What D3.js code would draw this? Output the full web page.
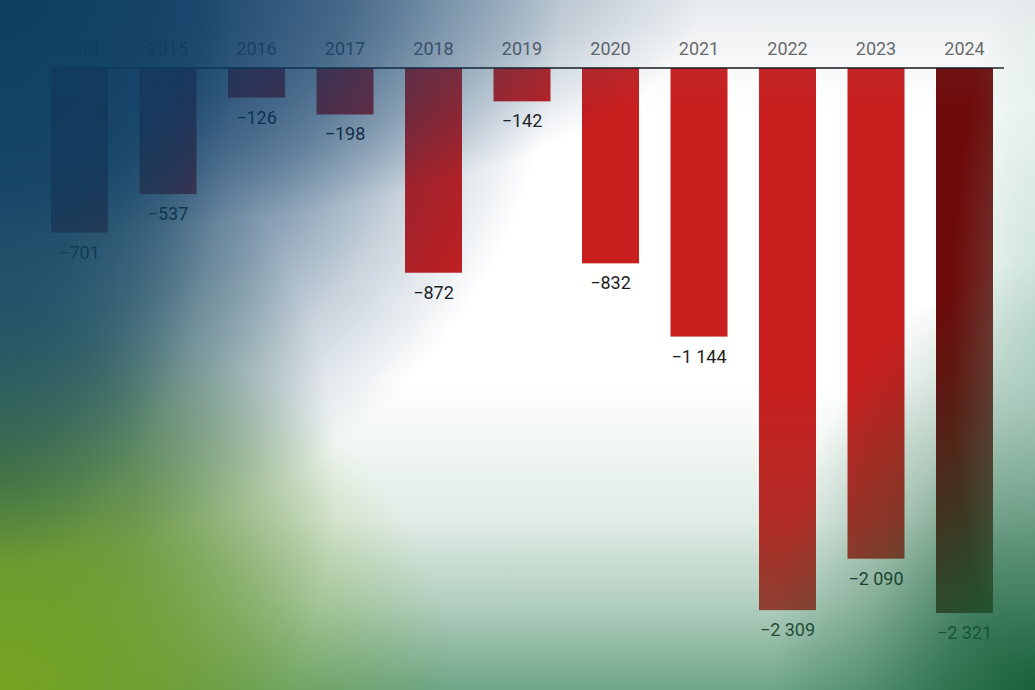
<!DOCTYPE html>
<html>
<head>
<meta charset="utf-8">
<script src="https://cdn.jsdelivr.net/npm/d3@7"></script>
<style>
  html, body { margin: 0; padding: 0; background: #ffffff; }
  svg { display: block; }
  .year { font-family: Roboto, sans-serif; font-size: 18px; fill: #666666; }
  .value { font-family: Roboto, sans-serif; font-size: 18px; fill: #1e1e1e; }
</style>
</head>
<body>
<script>
(function() {

    //chart data
    var years = ["2014", "2015", "2016", "2017", "2018", "2019", "2020", "2021", "2022", "2023", "2024"];
    var values = [-701, -537, -126, -198, -872, -142, -832, -1144, -2309, -2090, -2321];
    var highlight = ["2024"];

    window.onload = setChart();

    function setChart() {
        var width = 1035,
            height = 690;

        var svg = d3.select("body")
            .append("svg")
            .attr("width", width)
            .attr("height", height);

        //number format with space thousands and real minus sign
        var locale = d3.formatLocale({
            decimal: ",",
            thousands: " ",
            grouping: [3],
            currency: ["", ""],
            minus: "\u2212"
        });
        var fmt = locale.format(",d");

        var data = years.map(function(y, i) { return { year: y, value: values[i] }; });

        //x scale: bands for the years
        var x = d3.scaleBand()
            .domain(years)
            .range([51, 993])
            .paddingInner(0.356)
            .paddingOuter(0);

        //y scale: zero at top, negative values go down
        var y = d3.scaleLinear()
            .domain([0, -2400])
            .range([68, 631.5]);

        var chart = svg.append("g").attr("class", "chart");

        //bars
        chart.selectAll(".bar")
            .data(data)
            .enter()
            .append("rect")
            .attr("class", "bar")
            .attr("x", d => x(d.year))
            .attr("y", y(0))
            .attr("width", x.bandwidth())
            .attr("height", d => y(d.value) - y(0))
            .style("fill", d => highlight.indexOf(d.year) >= 0 ? "#6e0a0a" : "#c81e1e");

        //value labels under bars
        chart.selectAll(".value")
            .data(data)
            .enter()
            .append("text")
            .attr("class", "value")
            .attr("text-anchor", "middle")
            .attr("x", d => x(d.year) + x.bandwidth() / 2)
            .attr("y", d => y(d.value) + 26)
            .text(d => fmt(d.value));

        //year labels on top
        var xAxis = d3.axisTop(x).tickSize(0).tickPadding(0);
        var axis = chart.append("g")
            .attr("transform", "translate(0," + 55 + ")")
            .call(xAxis);
        axis.select(".domain").remove();
        axis.selectAll("text")
            .attr("class", "year")
            .attr("font-family", null)
            .attr("font-size", null)
            .attr("fill", null)
            .attr("dy", 0);

        //zero line
        chart.append("line")
            .attr("x1", 50)
            .attr("x2", 1004)
            .attr("y1", y(0))
            .attr("y2", y(0))
            .style("stroke", "#111111")
            .style("stroke-width", 1.5);

        //colour wash laid over the whole picture
        var defs = svg.append("defs");

        function linearWash(id, x1, y1, x2, y2, color, stops) {
            var g = defs.append("linearGradient")
                .attr("id", id)
                .attr("gradientUnits", "userSpaceOnUse")
                .attr("x1", x1).attr("y1", y1).attr("x2", x2).attr("y2", y2);
            stops.forEach(function(s) {
                g.append("stop")
                    .attr("offset", s[0])
                    .attr("stop-color", color)
                    .attr("stop-opacity", s[1]);
            });
            svg.append("rect")
                .attr("width", width)
                .attr("height", height)
                .style("fill", "url(#" + id + ")");
        }

        //green rising from the bottom edge
        linearWash("wBottom", 0, 380, 0, 690, "#2a7a50",
            [[0, 0], [0.45, 0.14], [0.71, 0.35], [1, 0.68]]);
        //faint grey haze along the top edge
        linearWash("wTop", 0, 0, 0, 110, "#8a9caa",
            [[0, 0.2], [0.5, 0.08], [1, 0]]);

        var washes = [
            { id: "wForest", cx: 0, cy: 480, r: 420, sx: 0.8, sy: 1.0, color: "#2b6540",
              stops: [[0, 0.88], [0.4, 0.66], [0.7, 0.32], [1, 0]] },
            { id: "wLime", cx: 0, cy: 690, r: 380, sx: 1.2, sy: 1.0, color: "#78a61c",
              stops: [[0, 0.95], [0.35, 0.7], [0.7, 0.28], [1, 0]] },
            { id: "wGreen", cx: 1035, cy: 690, r: 330, sx: 0.8, sy: 1.3, color: "#0f5a32",
              stops: [[0, 0.9], [0.33, 0.65], [0.65, 0.28], [1, 0]] },
            { id: "wMint", cx: 1035, cy: 330, r: 280, sx: 0.3, sy: 1.3, color: "#7ab4a0",
              stops: [[0, 0.4], [0.5, 0.22], [1, 0]] },
            { id: "wBlue", cx: 0, cy: 0, r: 560, sx: 1.0, sy: 1.0, color: "#093863",
              stops: [[0, 0.92], [0.35, 0.82], [0.6, 0.52], [0.8, 0.22], [1, 0]] },
            { id: "wBlueTop", cx: 0, cy: 0, r: 520, sx: 1.35, sy: 0.45, color: "#093863",
              stops: [[0, 0.55], [0.5, 0.45], [0.75, 0.25], [1, 0]] },
            { id: "wBlueLeft", cx: 0, cy: 0, r: 520, sx: 0.45, sy: 1.1, color: "#0b3f5e",
              stops: [[0, 0.55], [0.5, 0.45], [0.75, 0.25], [1, 0]] }
        ];

        washes.forEach(function(w) {
            var g = defs.append("radialGradient")
                .attr("id", w.id)
                .attr("gradientUnits", "userSpaceOnUse")
                .attr("cx", 0).attr("cy", 0).attr("r", w.r)
                .attr("gradientTransform", "translate(" + w.cx + "," + w.cy + ") scale(" + w.sx + "," + w.sy + ")");
            w.stops.forEach(function(s) {
                g.append("stop")
                    .attr("offset", s[0])
                    .attr("stop-color", w.color)
                    .attr("stop-opacity", s[1]);
            });
            svg.append("rect")
                .attr("width", width)
                .attr("height", height)
                .style("fill", "url(#" + w.id + ")");
        });
    }

})();
</script>
</body>
</html>
